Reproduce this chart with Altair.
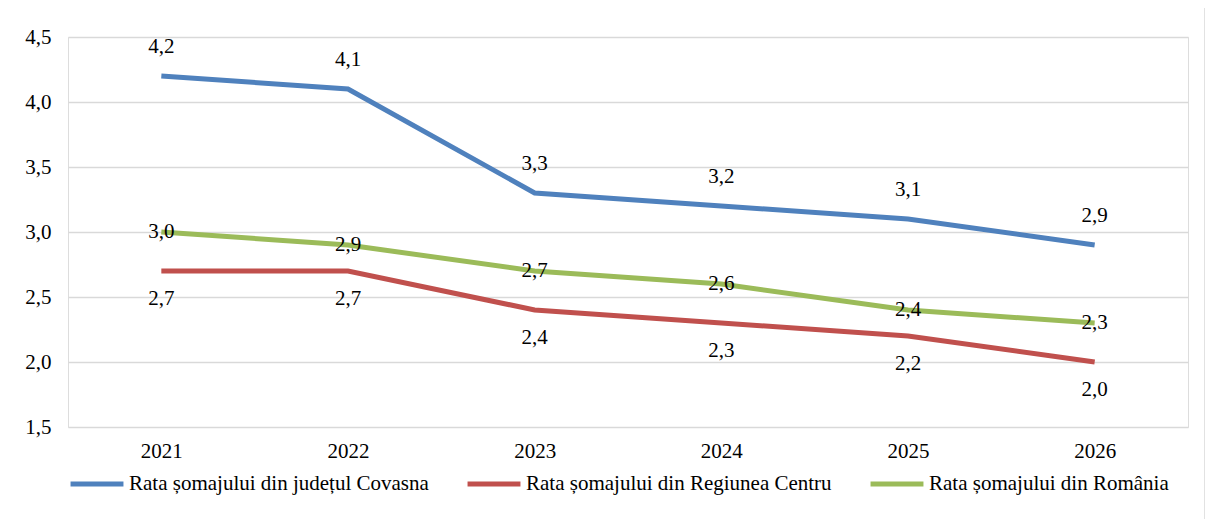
import altair as alt
import pandas as pd

years = ["2021", "2022", "2023", "2024", "2025", "2026"]
covasna = [4.2, 4.1, 3.3, 3.2, 3.1, 2.9]
centru = [2.7, 2.7, 2.4, 2.3, 2.2, 2.0]
romania = [3.0, 2.9, 2.7, 2.6, 2.4, 2.3]
series_names = [
    "Rata șomajului din județul Covasna",
    "Rata șomajului din Regiunea Centru",
    "Rata șomajului din România",
]
colors = ["#4f81bd", "#c0504d", "#9bbb59"]

rows = []
for name, vals in zip(series_names, [covasna, centru, romania]):
    for y, v in zip(years, vals):
        rows.append({"year": y, "value": v, "series": name,
                     "label": f"{v:.1f}".replace(".", ",")})
df = pd.DataFrame(rows)

FONT = "Liberation Serif"
FS = 21
W, H = 1120, 390

x = alt.X("year:N", sort=years, title=None,
          scale=alt.Scale(type="point", padding=0.5),
          axis=alt.Axis(labelAngle=0, domain=False, ticks=False, grid=False,
                        labelPadding=13, labelFontSize=FS, labelFont=FONT,
                        labelColor="#000"))
y = alt.Y("value:Q", title=None,
          scale=alt.Scale(domain=[1.5, 4.5], nice=False, zero=False),
          axis=alt.Axis(values=[1.5, 2.0, 2.5, 3.0, 3.5, 4.0, 4.5],
                        labelExpr="replace(format(datum.value, '.1f'), '.', ',')",
                        domain=False, ticks=False, grid=True,
                        gridColor="#d9d9d9", gridWidth=1.5,
                        labelPadding=17, labelFontSize=FS, labelFont=FONT,
                        labelColor="#000"))

color = alt.Color("series:N", sort=series_names,
                  scale=alt.Scale(domain=series_names, range=colors),
                  legend=alt.Legend(title=None, orient="none", direction="horizontal",
                                    columns=3, legendX=0, legendY=418,
                                    symbolType="stroke", symbolStrokeWidth=5,
                                    symbolSize=2800, labelFontSize=FS,
                                    labelFont=FONT, labelColor="#000",
                                    columnPadding=28, labelOffset=3,
                                    labelLimit=500))

lines = alt.Chart(df).mark_line(strokeWidth=5).encode(x=x, y=y, color=color)

def labels(name, dy):
    return alt.Chart(df[df.series == name]).mark_text(
        dy=dy, fontSize=FS, font=FONT, color="#000"
    ).encode(x=x, y=y, text="label:N")

frame = alt.Chart(pd.DataFrame({"a": [0]})).mark_rect(
    fill="transparent", stroke="#d9d9d9", strokeWidth=1.5
).encode(x=alt.value(-61), x2=alt.value(1137), y=alt.value(-30), y2=alt.value(540))

chart = alt.layer(
    frame, lines,
    labels(series_names[0], -29),
    labels(series_names[1], 28),
    labels(series_names[2], 0),
).properties(
    width=W, height=H,
    autosize=alt.AutoSizeParams(type="none"),
    padding={"left": 60, "top": 29, "right": 17, "bottom": 92},
).configure_view(stroke=None).configure(background="white", font=FONT)

chart.save("out.html", embed_options={"renderer": "svg", "actions": False})
